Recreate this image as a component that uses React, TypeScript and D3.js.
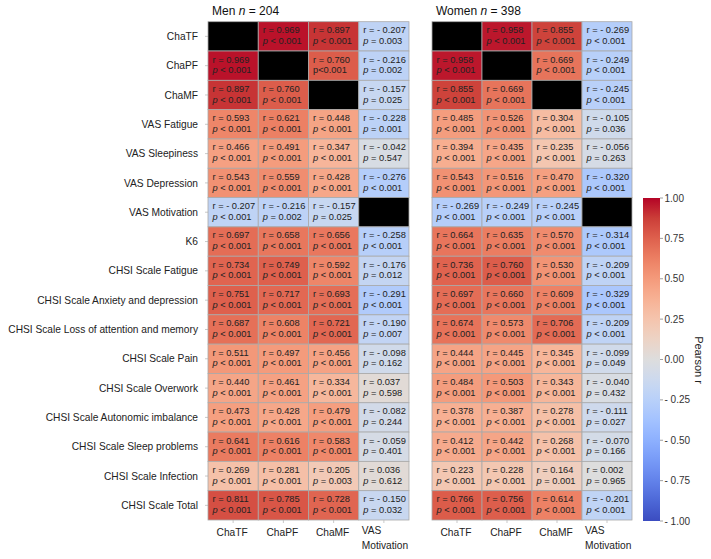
import React from "react";
import * as d3 from "d3";

const rowLabels = [
  "ChaTF", "ChaPF", "ChaMF", "VAS Fatigue", "VAS Sleepiness", "VAS Depression", "VAS Motivation", "K6",
  "CHSI Scale Fatigue", "CHSI Scale Anxiety and depression", "CHSI Scale Loss of attention and memory",
  "CHSI Scale Pain", "CHSI Scale Overwork", "CHSI Scale Autonomic imbalance", "CHSI Scale Sleep problems",
  "CHSI Scale Infection", "CHSI Scale Total",
];
const colLabels = ["ChaTF", "ChaPF", "ChaMF", "VAS Motivation"];

const menR: (number | null)[][] = [
  [null, 0.969, 0.897, -0.207],
  [0.969, null, 0.760, -0.216],
  [0.897, 0.760, null, -0.157],
  [0.593, 0.621, 0.448, -0.228],
  [0.466, 0.491, 0.347, -0.042],
  [0.543, 0.559, 0.428, -0.276],
  [-0.207, -0.216, -0.157, null],
  [0.697, 0.658, 0.656, -0.258],
  [0.734, 0.749, 0.592, -0.176],
  [0.751, 0.717, 0.693, -0.291],
  [0.687, 0.608, 0.721, -0.190],
  [0.511, 0.497, 0.456, -0.098],
  [0.440, 0.461, 0.334, 0.037],
  [0.473, 0.428, 0.479, -0.082],
  [0.641, 0.616, 0.583, -0.059],
  [0.269, 0.281, 0.205, 0.036],
  [0.811, 0.785, 0.728, -0.150],
];
const L = "< 0.001";
const menP: string[][] = [
  ["", L, L, "= 0.003"],
  [L, "", "p<0.001", "= 0.002"],
  [L, L, "", "= 0.025"],
  [L, L, L, "= 0.001"],
  [L, L, L, "= 0.547"],
  [L, L, L, L],
  [L, "= 0.002", "= 0.025", ""],
  [L, L, L, L],
  [L, L, L, "= 0.012"],
  [L, L, L, L],
  [L, L, L, "= 0.007"],
  [L, L, L, "= 0.162"],
  [L, L, L, "= 0.598"],
  [L, L, L, "= 0.244"],
  [L, L, L, "= 0.401"],
  [L, L, "= 0.003", "= 0.612"],
  [L, L, L, "= 0.032"],
];

const womenR: (number | null)[][] = [
  [null, 0.958, 0.855, -0.269],
  [0.958, null, 0.669, -0.249],
  [0.855, 0.669, null, -0.245],
  [0.485, 0.526, 0.304, -0.105],
  [0.394, 0.435, 0.235, -0.056],
  [0.543, 0.516, 0.470, -0.320],
  [-0.269, -0.249, -0.245, null],
  [0.664, 0.635, 0.570, -0.314],
  [0.736, 0.760, 0.530, -0.209],
  [0.697, 0.660, 0.609, -0.329],
  [0.674, 0.573, 0.706, -0.209],
  [0.444, 0.445, 0.345, -0.099],
  [0.484, 0.503, 0.343, -0.040],
  [0.378, 0.387, 0.278, -0.111],
  [0.412, 0.442, 0.268, -0.070],
  [0.223, 0.228, 0.164, 0.002],
  [0.766, 0.756, 0.614, -0.201],
];
const womenP: string[][] = [
  ["", L, L, L],
  [L, "", L, L],
  [L, L, "", L],
  [L, L, L, "= 0.036"],
  [L, L, L, "= 0.263"],
  [L, L, L, L],
  [L, L, L, ""],
  [L, L, L, L],
  [L, L, L, L],
  [L, L, L, L],
  [L, L, L, L],
  [L, L, L, "= 0.049"],
  [L, L, L, "= 0.432"],
  [L, L, L, "= 0.027"],
  [L, L, L, "= 0.166"],
  [L, L, "= 0.001", "= 0.965"],
  [L, L, L, L],
];

const colorTicks = [1, 0.75, 0.5, 0.25, 0, -0.25, -0.5, -0.75, -1];

// matplotlib coolwarm anchors (every 1/16)
const coolwarm = [
  [0.2298, 0.2987, 0.7537], [0.3039, 0.4065, 0.8450], [0.3830, 0.5094, 0.9174], [0.4667, 0.6046, 0.9682],
  [0.5530, 0.6889, 0.9954], [0.6392, 0.7596, 0.9982], [0.7222, 0.8140, 0.9766], [0.7987, 0.8498, 0.9317],
  [0.8654, 0.8654, 0.8654], [0.9241, 0.8274, 0.7745], [0.9589, 0.7698, 0.6780], [0.9700, 0.6943, 0.5794],
  [0.9580, 0.6028, 0.4818], [0.9239, 0.4973, 0.3880], [0.8692, 0.3783, 0.3003], [0.7956, 0.2413, 0.2205],
  [0.7057, 0.0156, 0.1502],
].map(([r, g, b]) => d3.rgb(r * 255, g * 255, b * 255).formatHex());
const color = d3
  .scaleLinear<string>()
  .domain(coolwarm.map((_, i) => -1 + (2 * i) / (coolwarm.length - 1)))
  .range(coolwarm)
  .interpolate(d3.interpolateRgb);

const FONT = "'Liberation Sans', Arial, sans-serif";
const yScale = d3.scaleBand<string>().domain(rowLabels).range([21.7, 520]);

function fmtR(v: number) {
  return v < 0 ? `r = - ${Math.abs(v).toFixed(3)}` : `r = ${v.toFixed(3)}`;
}

function Panel({ x0, x1, title, n, R, P }: { x0: number; x1: number; title: string; n: number; R: (number | null)[][]; P: string[][] }) {
  const xScale = d3.scaleBand<string>().domain(colLabels).range([x0, x1]);
  const bw = xScale.bandwidth();
  const bh = yScale.bandwidth();
  return (
    <g>
      <text x={x0 + 4} y={15} fontSize={12} fontFamily={FONT} fill="#111">
        {title} <tspan fontStyle="italic">n</tspan> = {n}
      </text>
      {rowLabels.map((row, i) =>
        colLabels.map((col, j) => {
          const v = R[i][j];
          const x = xScale(col)!;
          const y = yScale(row)!;
          const p = P[i][j];
          return (
            <g key={row + col}>
              <rect x={x} y={y} width={bw} height={bh} fill={v === null ? "#000" : color(v)} stroke="#a9a9a9" strokeWidth={0.8} />
              {v !== null && (
                <text fontSize={9.3} fontFamily={FONT} fill="#222">
                  <tspan x={x + 4.5} y={y + 11.5}>{fmtR(v)}</tspan>
                  {p.startsWith("p<") ? (
                    <tspan x={x + 4.5} y={y + 22.3}>{p}</tspan>
                  ) : (
                    <tspan x={x + 4.5} y={y + 22.3}>
                      <tspan fontStyle="italic">p</tspan> {p}
                    </tspan>
                  )}
                </text>
              )}
            </g>
          );
        })
      )}
      {colLabels.map((col) => {
        const cx = xScale(col)! + bw / 2;
        return <line key={"t" + col} x1={cx} x2={cx} y1={520} y2={523} stroke="#bbb" strokeWidth={0.8} />;
      })}
      {colLabels.map((col) => {
        const x = xScale(col)!;
        const cx = x + bw / 2;
        if (col === "VAS Motivation") {
          return (
            <text key={"c" + col} fontSize={10.2} fontFamily={FONT} fill="#222">
              <tspan x={x + 3} y={534}>VAS</tspan>
              <tspan x={x + 3} y={549}>Motivation</tspan>
            </text>
          );
        }
        return (
          <text key={"c" + col} x={cx - 1} y={536} textAnchor="middle" fontSize={10.2} fontFamily={FONT} fill="#222">
            {col}
          </text>
        );
      })}
    </g>
  );
}

export default function App() {
  const cbScale = d3.scaleLinear().domain([-1, 1]).range([521, 198]);
  const stops = d3.range(0, 1.0001, 1 / 32);
  return (
    <svg width={711} height={559} style={{ position: "absolute", left: 0, top: 0, background: "#fff" }}>
      <defs>
        <linearGradient id="cb" x1="0" y1="1" x2="0" y2="0">
          {stops.map((t) => (
            <stop key={t} offset={t} stopColor={color(-1 + 2 * t)} />
          ))}
        </linearGradient>
      </defs>
      <rect width={711} height={559} fill="#fff" />
      {rowLabels.map((row) => {
        const cy = yScale(row)! + yScale.bandwidth() / 2;
        return (
          <g key={"r" + row}>
            <text x={198} y={cy + 3.6} textAnchor="end" fontSize={10.2} fontFamily={FONT} fill="#222">
              {row}
            </text>
            <line x1={205} x2={208} y1={cy} y2={cy} stroke="#bbb" strokeWidth={0.8} />
          </g>
        );
      })}
      <Panel x0={208} x1={409} title="Men" n={204} R={menR} P={menP} />
      <Panel x0={432} x1={632} title="Women" n={398} R={womenR} P={womenP} />
      <rect x={643} y={198} width={17} height={323} fill="url(#cb)" />
      {colorTicks.map((t) => (
        <g key={"cb" + t}>
          <line x1={660} x2={663} y1={cbScale(t)} y2={cbScale(t)} stroke="#888" strokeWidth={0.8} />
          <text x={664.5} y={cbScale(t) + 3.5} fontSize={10} fontFamily={FONT} fill="#333">
            {t < 0 ? `- ${Math.abs(t).toFixed(2)}` : t.toFixed(2)}
          </text>
        </g>
      ))}
      <text
        transform={`translate(695,360) rotate(90)`}
        textAnchor="middle"
        fontSize={11}
        fontFamily={FONT}
        fill="#222"
      >
        Pearson r
      </text>
    </svg>
  );
}
